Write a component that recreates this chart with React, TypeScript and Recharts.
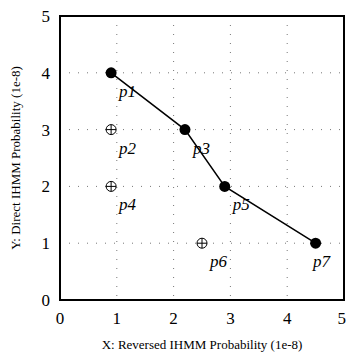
import React from 'react';
import {
  ScatterChart,
  Scatter,
  XAxis,
  YAxis,
  CartesianGrid,
  ReferenceArea
} from 'recharts';

// connected points (filled)
const mainNames = ['p1', 'p3', 'p5', 'p7'];
const mainX = [0.9, 2.2, 2.9, 4.5];
const mainY = [4, 3, 2, 1];

// loose points (circled plus)
const otherNames = ['p2', 'p4', 'p6'];
const otherX = [0.9, 0.9, 2.5];
const otherY = [3, 2, 1];

const ticks = [0, 1, 2, 3, 4, 5];

const FONT = '"Liberation Serif", "DejaVu Serif", serif';

const mainData = mainNames.map((name, i) => ({ name, x: mainX[i], y: mainY[i] }));
const otherData = otherNames.map((name, i) => ({ name, x: otherX[i], y: otherY[i] }));

const PointLabel = ({ cx, cy, name }: { cx: number; cy: number; name: string }) => {
  // keep the label inside the frame on the right
  const x = Math.min(cx + 8, 313);
  return (
    <text x={x} y={cy + 24} fontFamily={FONT} fontStyle="italic" fontSize={17} fill="#000">
      {name}
    </text>
  );
};

const FilledDot = (props: any) => {
  const { cx, cy, payload } = props;
  return (
    <g>
      <circle cx={cx} cy={cy} r={5.5} fill="#000" />
      <PointLabel cx={cx} cy={cy} name={payload.name} />
    </g>
  );
};

const PlusDot = (props: any) => {
  const { cx, cy, payload } = props;
  return (
    <g>
      <circle cx={cx} cy={cy} r={5} fill="#fff" stroke="#000" strokeWidth={1} />
      <line x1={cx - 5} y1={cy} x2={cx + 5} y2={cy} stroke="#000" strokeWidth={1} />
      <line x1={cx} y1={cy - 5} x2={cx} y2={cy + 5} stroke="#000" strokeWidth={1} />
      <PointLabel cx={cx} cy={cy} name={payload.name} />
    </g>
  );
};

export default function App() {
  return (
    <div style={{ position: 'fixed', left: 0, top: 0, background: '#fff' }}>
      <ScatterChart
        width={346}
        height={352}
        margin={{ top: 16, right: 2, left: 0, bottom: 0 }}
      >
        <CartesianGrid
          stroke="#777"
          strokeDasharray="1 8"
          horizontalValues={[1, 2, 3, 4]}
          verticalValues={[1, 2, 3, 4]}
        />
        <XAxis
          type="number"
          dataKey="x"
          domain={[0, 5]}
          ticks={ticks}
          height={52}
          tickLine={false}
          axisLine={false}
          tickMargin={6}
          tick={{ fill: '#000', fontFamily: FONT, fontSize: 17 }}
          label={{
            value: 'X: Reversed IHMM Probability (1e-8)',
            position: 'insideBottom',
            offset: 3,
            style: { fill: '#000', fontFamily: FONT, fontSize: 13 }
          }}
        />
        <YAxis
          type="number"
          dataKey="y"
          domain={[0, 5]}
          ticks={ticks}
          width={60}
          tickLine={false}
          axisLine={false}
          tickMargin={4}
          tick={{ fill: '#000', fontFamily: FONT, fontSize: 17 }}
          label={{
            value: 'Y: Direct IHMM Probability (1e-8)',
            angle: -90,
            position: 'insideLeft',
            offset: 15,
            style: { fill: '#000', fontFamily: FONT, fontSize: 13, textAnchor: 'middle' }
          }}
        />
        <ReferenceArea
          x1={0}
          x2={5}
          y1={0}
          y2={5}
          fill="none"
          stroke="#000"
          strokeWidth={2}
          ifOverflow="visible"
        />
        <Scatter
          data={otherData}
          shape={PlusDot}
          isAnimationActive={false}
        />
        <Scatter
          data={mainData}
          line={{ stroke: '#000', strokeWidth: 1.5 }}
          shape={FilledDot}
          isAnimationActive={false}
        />
      </ScatterChart>
    </div>
  );
}
